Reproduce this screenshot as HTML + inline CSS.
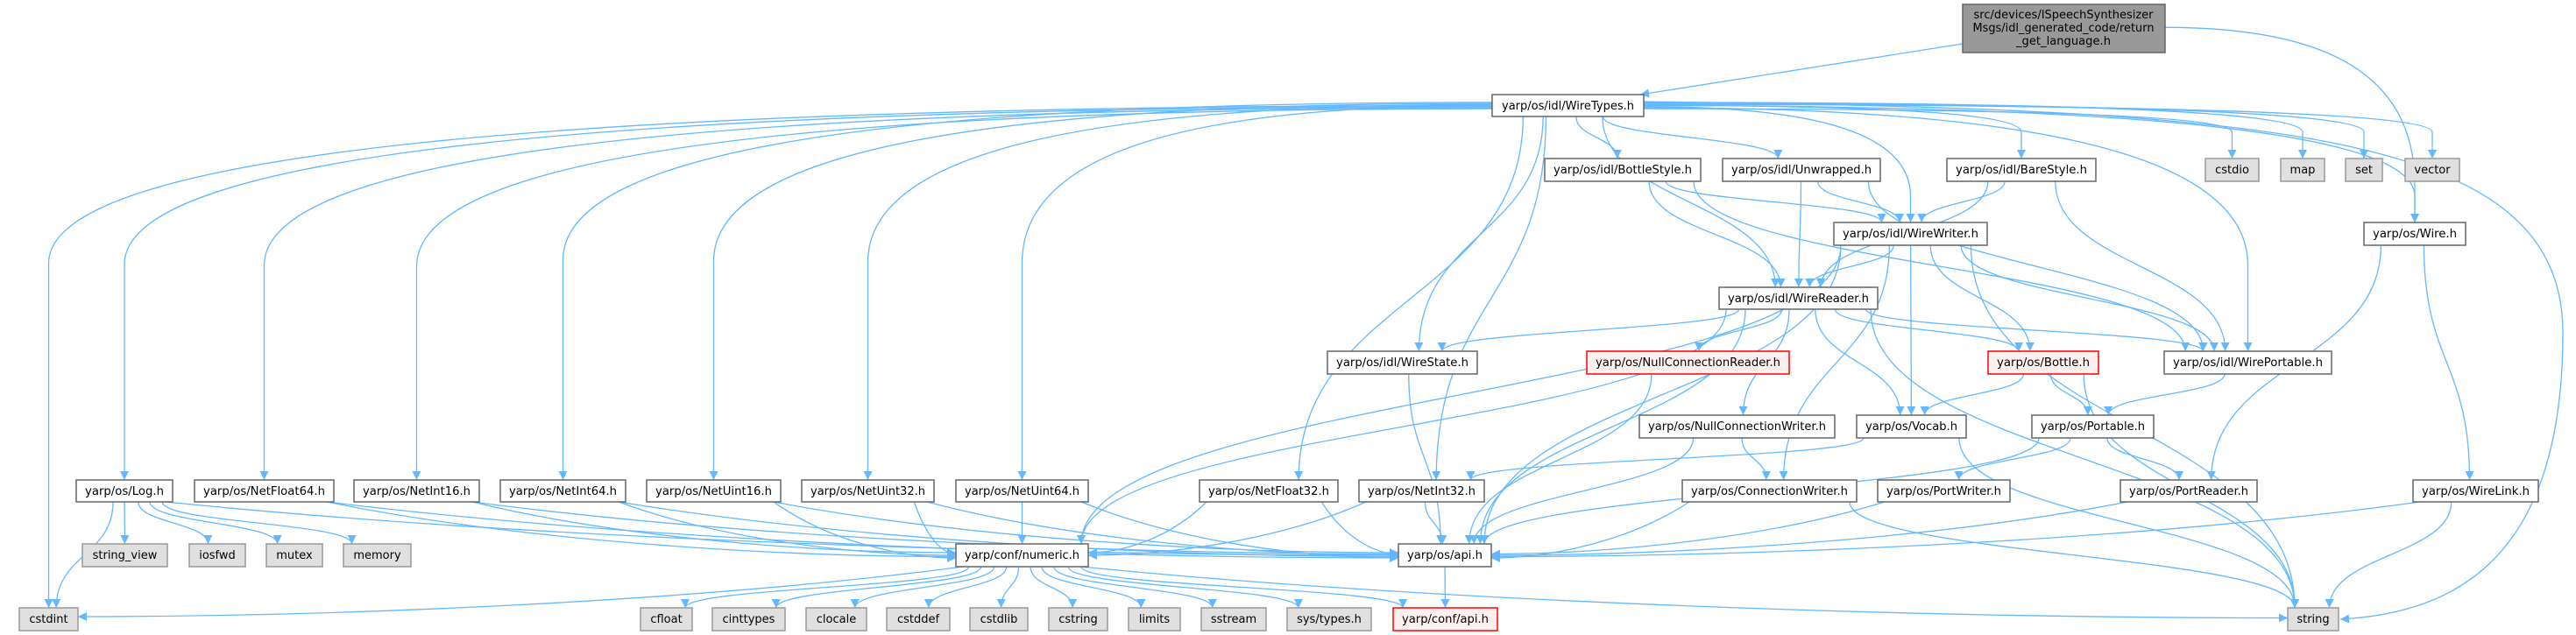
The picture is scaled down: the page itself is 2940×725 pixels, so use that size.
<!DOCTYPE html>
<html><head><meta charset="utf-8"><style>
html,body{margin:0;padding:0;background:#fff;}
svg{display:block;}
text{font-family:"DejaVu Sans","Liberation Sans",sans-serif;font-size:13px;fill:#000;}
.n rect{fill:#fff;stroke:#666;stroke-width:1.5;}
.g rect{fill:#e0e0e0;stroke:#999;stroke-width:1.5;}
.r rect{fill:#fff0f0;stroke:#f00;stroke-width:1.5;}
.root rect{fill:#999;stroke:#666;stroke-width:1.5;}
.e{fill:none;stroke:#63b8ff;stroke-width:1.3;}
</style></head><body>
<svg id="s" width="2940" height="725" viewBox="0 0 2940 725" xmlns="http://www.w3.org/2000/svg">
<defs><marker id="a" viewBox="0 0 10 10" refX="10" refY="5" markerWidth="11" markerHeight="10" markerUnits="userSpaceOnUse" orient="auto"><path d="M0,0 L10,5 L0,10 z" fill="#63b8ff"/></marker></defs>
<g id="edges"></g>
<g class="root"><rect id="root" x="2240" y="5" width="231" height="55"/>
<text x="2355" y="21" text-anchor="middle" textLength="205" lengthAdjust="spacingAndGlyphs">src/devices/ISpeechSynthesizer</text>
<text x="2355" y="36" text-anchor="middle" textLength="207" lengthAdjust="spacingAndGlyphs">Msgs/idl_generated_code/return</text>
<text x="2355" y="51" text-anchor="middle" textLength="108" lengthAdjust="spacingAndGlyphs">_get_language.h</text></g>
<g class="n"><rect id="WireTypes" x="1703" y="108" width="173" height="25"/><text x="1789.5" y="125" text-anchor="middle" textLength="151" lengthAdjust="spacingAndGlyphs">yarp/os/idl/WireTypes.h</text></g>
<g class="n"><rect id="BottleStyle" x="1763" y="181" width="178" height="26"/><text x="1852" y="198" text-anchor="middle" textLength="158" lengthAdjust="spacingAndGlyphs">yarp/os/idl/BottleStyle.h</text></g>
<g class="n"><rect id="Unwrapped" x="1966" y="181" width="180" height="26"/><text x="2056" y="198" text-anchor="middle" textLength="160" lengthAdjust="spacingAndGlyphs">yarp/os/idl/Unwrapped.h</text></g>
<g class="n"><rect id="BareStyle" x="2222" y="181" width="170" height="26"/><text x="2307" y="198" text-anchor="middle" textLength="150" lengthAdjust="spacingAndGlyphs">yarp/os/idl/BareStyle.h</text></g>
<g class="g"><rect id="cstdio" x="2517" y="181" width="61" height="26"/><text x="2547.5" y="198" text-anchor="middle">cstdio</text></g>
<g class="g"><rect id="map" x="2603" y="181" width="50" height="26"/><text x="2628" y="198" text-anchor="middle">map</text></g>
<g class="g"><rect id="set" x="2677" y="181" width="42" height="26"/><text x="2698" y="198" text-anchor="middle">set</text></g>
<g class="g"><rect id="vector" x="2745" y="181" width="62" height="26"/><text x="2776" y="198" text-anchor="middle">vector</text></g>
<g class="n"><rect id="WireWriter" x="2093" y="254" width="175" height="26"/><text x="2180.5" y="271" text-anchor="middle" textLength="155" lengthAdjust="spacingAndGlyphs">yarp/os/idl/WireWriter.h</text></g>
<g class="n"><rect id="Wire" x="2698" y="254" width="116" height="26"/><text x="2756" y="271" text-anchor="middle" textLength="96" lengthAdjust="spacingAndGlyphs">yarp/os/Wire.h</text></g>
<g class="n"><rect id="WireReader" x="1962" y="328" width="181" height="25"/><text x="2052.5" y="345" text-anchor="middle" textLength="161" lengthAdjust="spacingAndGlyphs">yarp/os/idl/WireReader.h</text></g>
<g class="n"><rect id="WireState" x="1515" y="401" width="171" height="26"/><text x="1600.5" y="418" text-anchor="middle" textLength="151" lengthAdjust="spacingAndGlyphs">yarp/os/idl/WireState.h</text></g>
<g class="r"><rect id="NCR" x="1811" y="401" width="231" height="26"/><text x="1926.5" y="418" text-anchor="middle" textLength="211" lengthAdjust="spacingAndGlyphs">yarp/os/NullConnectionReader.h</text></g>
<g class="r"><rect id="Bottle" x="2269" y="401" width="126" height="26"/><text x="2332" y="418" text-anchor="middle" textLength="106" lengthAdjust="spacingAndGlyphs">yarp/os/Bottle.h</text></g>
<g class="n"><rect id="WirePortable" x="2470" y="401" width="191" height="26"/><text x="2565.5" y="418" text-anchor="middle" textLength="171" lengthAdjust="spacingAndGlyphs">yarp/os/idl/WirePortable.h</text></g>
<g class="n"><rect id="NCW" x="1871" y="474" width="223" height="26"/><text x="1982.5" y="491" text-anchor="middle" textLength="203" lengthAdjust="spacingAndGlyphs">yarp/os/NullConnectionWriter.h</text></g>
<g class="n"><rect id="Vocab" x="2119" y="474" width="125" height="26"/><text x="2181.5" y="491" text-anchor="middle" textLength="105" lengthAdjust="spacingAndGlyphs">yarp/os/Vocab.h</text></g>
<g class="n"><rect id="Portable" x="2319" y="474" width="139" height="26"/><text x="2388.5" y="491" text-anchor="middle" textLength="119" lengthAdjust="spacingAndGlyphs">yarp/os/Portable.h</text></g>
<g class="n"><rect id="Log" x="87" y="548" width="110" height="25"/><text x="142" y="565" text-anchor="middle" textLength="90" lengthAdjust="spacingAndGlyphs">yarp/os/Log.h</text></g>
<g class="n"><rect id="NetFloat64" x="222" y="548" width="159" height="25"/><text x="301.5" y="565" text-anchor="middle" textLength="139" lengthAdjust="spacingAndGlyphs">yarp/os/NetFloat64.h</text></g>
<g class="n"><rect id="NetInt16" x="404" y="548" width="143" height="25"/><text x="475.5" y="565" text-anchor="middle" textLength="123" lengthAdjust="spacingAndGlyphs">yarp/os/NetInt16.h</text></g>
<g class="n"><rect id="NetInt64" x="571" y="548" width="143" height="25"/><text x="642.5" y="565" text-anchor="middle" textLength="123" lengthAdjust="spacingAndGlyphs">yarp/os/NetInt64.h</text></g>
<g class="n"><rect id="NetUint16" x="738" y="548" width="153" height="25"/><text x="814.5" y="565" text-anchor="middle" textLength="133" lengthAdjust="spacingAndGlyphs">yarp/os/NetUint16.h</text></g>
<g class="n"><rect id="NetUint32" x="915" y="548" width="151" height="25"/><text x="990.5" y="565" text-anchor="middle" textLength="131" lengthAdjust="spacingAndGlyphs">yarp/os/NetUint32.h</text></g>
<g class="n"><rect id="NetUint64" x="1091" y="548" width="151" height="25"/><text x="1166.5" y="565" text-anchor="middle" textLength="131" lengthAdjust="spacingAndGlyphs">yarp/os/NetUint64.h</text></g>
<g class="n"><rect id="NetFloat32" x="1369" y="548" width="158" height="25"/><text x="1448" y="565" text-anchor="middle" textLength="138" lengthAdjust="spacingAndGlyphs">yarp/os/NetFloat32.h</text></g>
<g class="n"><rect id="NetInt32" x="1551" y="548" width="143" height="25"/><text x="1622.5" y="565" text-anchor="middle" textLength="123" lengthAdjust="spacingAndGlyphs">yarp/os/NetInt32.h</text></g>
<g class="n"><rect id="ConnW" x="1920" y="548" width="199" height="25"/><text x="2019.5" y="565" text-anchor="middle" textLength="179" lengthAdjust="spacingAndGlyphs">yarp/os/ConnectionWriter.h</text></g>
<g class="n"><rect id="PortWriter" x="2143" y="548" width="151" height="25"/><text x="2218.5" y="565" text-anchor="middle" textLength="131" lengthAdjust="spacingAndGlyphs">yarp/os/PortWriter.h</text></g>
<g class="n"><rect id="PortReader" x="2420" y="548" width="156" height="25"/><text x="2498" y="565" text-anchor="middle" textLength="136" lengthAdjust="spacingAndGlyphs">yarp/os/PortReader.h</text></g>
<g class="n"><rect id="WireLink" x="2754" y="548" width="143" height="25"/><text x="2825.5" y="565" text-anchor="middle" textLength="123" lengthAdjust="spacingAndGlyphs">yarp/os/WireLink.h</text></g>
<g class="g"><rect id="string_view" x="94" y="621" width="97" height="26"/><text x="142.5" y="638" text-anchor="middle">string_view</text></g>
<g class="g"><rect id="iosfwd" x="216" y="621" width="64" height="26"/><text x="248" y="638" text-anchor="middle">iosfwd</text></g>
<g class="g"><rect id="mutex" x="304" y="621" width="64" height="26"/><text x="336" y="638" text-anchor="middle">mutex</text></g>
<g class="g"><rect id="memory" x="392" y="621" width="77" height="26"/><text x="430.5" y="638" text-anchor="middle">memory</text></g>
<g class="n"><rect id="numeric" x="1091" y="621" width="151" height="26"/><text x="1166.5" y="638" text-anchor="middle" textLength="131" lengthAdjust="spacingAndGlyphs">yarp/conf/numeric.h</text></g>
<g class="n"><rect id="api" x="1596" y="621" width="106" height="26"/><text x="1649" y="638" text-anchor="middle" textLength="86" lengthAdjust="spacingAndGlyphs">yarp/os/api.h</text></g>
<g class="g"><rect id="cstdint" x="22" y="694" width="67" height="26"/><text x="55.5" y="711" text-anchor="middle">cstdint</text></g>
<g class="g"><rect id="cfloat" x="731" y="694" width="59" height="26"/><text x="760.5" y="711" text-anchor="middle">cfloat</text></g>
<g class="g"><rect id="cinttypes" x="813" y="694" width="83" height="26"/><text x="854.5" y="711" text-anchor="middle">cinttypes</text></g>
<g class="g"><rect id="clocale" x="920" y="694" width="69" height="26"/><text x="954.5" y="711" text-anchor="middle">clocale</text></g>
<g class="g"><rect id="cstddef" x="1012" y="694" width="72" height="26"/><text x="1048" y="711" text-anchor="middle">cstddef</text></g>
<g class="g"><rect id="cstdlib" x="1107" y="694" width="66" height="26"/><text x="1140" y="711" text-anchor="middle">cstdlib</text></g>
<g class="g"><rect id="cstring" x="1197" y="694" width="67" height="26"/><text x="1230.5" y="711" text-anchor="middle">cstring</text></g>
<g class="g"><rect id="limits" x="1288" y="694" width="59" height="26"/><text x="1317.5" y="711" text-anchor="middle">limits</text></g>
<g class="g"><rect id="sstream" x="1371" y="694" width="74" height="26"/><text x="1408" y="711" text-anchor="middle">sstream</text></g>
<g class="g"><rect id="systypes" x="1469" y="694" width="96" height="26"/><text x="1517" y="711" text-anchor="middle">sys/types.h</text></g>
<g class="r"><rect id="confapi" x="1590" y="694" width="119" height="26"/><text x="1649.5" y="711" text-anchor="middle" textLength="99" lengthAdjust="spacingAndGlyphs">yarp/conf/api.h</text></g>
<g class="g"><rect id="string" x="2611" y="694" width="58" height="26"/><text x="2640" y="711" text-anchor="middle">string</text></g>
</svg>
<script>
var E=[["root","WireTypes"],["root","Wire"],
["WireTypes","cstdint"],["WireTypes","Log"],["WireTypes","NetFloat64"],["WireTypes","NetInt16"],["WireTypes","NetInt64"],["WireTypes","NetUint16"],["WireTypes","NetUint32"],["WireTypes","NetUint64"],["WireTypes","NetFloat32"],["WireTypes","NetInt32"],["WireTypes","WireState"],["WireTypes","WireReader"],["WireTypes","BottleStyle"],["WireTypes","Unwrapped"],["WireTypes","BareStyle"],["WireTypes","WireWriter"],["WireTypes","WirePortable"],["WireTypes","cstdio"],["WireTypes","map"],["WireTypes","set"],["WireTypes","vector"],["WireTypes","Wire"],["WireTypes","string"],
["BottleStyle","WireReader"],["BottleStyle","WireWriter"],["BottleStyle","WirePortable"],
["Unwrapped","WireReader"],["Unwrapped","WireWriter"],["Unwrapped","WirePortable"],
["BareStyle","WireReader"],["BareStyle","WireWriter"],["BareStyle","WirePortable"],
["WireWriter","WireReader"],["WireWriter","WirePortable"],["WireWriter","Bottle"],["WireWriter","Vocab"],["WireWriter","ConnW"],["WireWriter","api"],["WireWriter","numeric"],["WireWriter","string"],
["WireReader","WireState"],["WireReader","NCR"],["WireReader","NCW"],["WireReader","Vocab"],["WireReader","Bottle"],["WireReader","WirePortable"],["WireReader","numeric"],["WireReader","api"],["WireReader","string"],
["WireState","api"],["NCR","api"],["NCW","ConnW"],["NCW","api"],
["Bottle","Vocab"],["Bottle","Portable"],["Bottle","string"],["WirePortable","Portable"],
["Vocab","NetInt32"],["Vocab","string"],["Portable","PortWriter"],["Portable","PortReader"],["Portable","api"],
["Wire","PortReader"],["Wire","WireLink"],
["Log","string_view"],["Log","iosfwd"],["Log","mutex"],["Log","memory"],["Log","cstdint"],["Log","api"],
["NetFloat64","numeric"],["NetFloat64","api"],["NetInt16","numeric"],["NetInt16","api"],["NetInt64","numeric"],["NetInt64","api"],["NetUint16","numeric"],["NetUint16","api"],["NetUint32","numeric"],["NetUint32","api"],["NetUint64","numeric"],["NetUint64","api"],["NetFloat32","numeric"],["NetFloat32","api"],["NetInt32","numeric"],["NetInt32","api"],
["ConnW","api"],["ConnW","string"],["PortWriter","api"],["PortReader","api"],["WireLink","api"],["WireLink","string"],
["numeric","cstdint"],["numeric","cfloat"],["numeric","cinttypes"],["numeric","clocale"],["numeric","cstddef"],["numeric","cstdlib"],["numeric","cstring"],["numeric","limits"],["numeric","sstream"],["numeric","systypes"],["numeric","confapi"],["numeric","string"],
["api","confapi"]];
function b(id){var r=document.getElementById(id);var x=+r.getAttribute("x"),y=+r.getAttribute("y"),w=+r.getAttribute("width"),h=+r.getAttribute("height");return {x:x,y:y,w:w,h:h,cx:x+w/2,cy:y+h/2};}
var out="",k=0;
E.forEach(function(e){var s=b(e[0]),t=b(e[1]),d;k++;
var dx=t.cx-s.cx,dy=t.y-(s.y+s.h);
var sideT=(e[1]=="api"||e[1]=="numeric"||(e[0]=="numeric"&&(e[1]=="cstdint"||e[1]=="string")));
if(e[0]=="root"&&e[1]=="WireTypes"){
 d="M2240,50 L1872,108";
}else if(e[0]=="WireTypes"&&e[1]=="string"){
 d="M1876,116 C2600,125 2925,150 2925,380 C2925,640 2800,700 2671,707";
}else if((e[0]=="WireTypes"||e[0]=="root")&&dy>40&&Math.abs(dx)>350){
 var sx=dx<0?s.x:s.x+s.w,sy=s.cy+((k%7)-3)*1.2;
 var tx=t.cx,ty=t.y;var c=Math.min(sy+180,ty-30);
 d="M"+sx+","+sy+" C"+(tx+(sx-tx)*0.35)+","+sy+" "+tx+","+(sy+(c-sy)*0.3)+" "+tx+","+c+" L"+tx+","+ty;
}else if(sideT&&dy>=0&&dy<80&&Math.abs(dx)>150){
 var sx=s.cx+Math.max(-s.w/2+8,Math.min(s.w/2-8,dx*0.3)),sy=s.y+s.h;
 var tx=dx>0?t.x:t.x+t.w,ty=t.cy+((k%5)-2)*1.5;
 d="M"+sx+","+sy+" C"+(sx+(tx-sx)*0.3)+","+(sy+(ty-sy)*0.7)+" "+(tx-(tx-sx)*0.3)+","+ty+" "+tx+","+ty;
}else{
 var sx=s.cx+Math.max(-s.w/2+8,Math.min(s.w/2-8,dx*0.15)),sy=s.y+s.h;
 var tx=t.cx+Math.max(-t.w/2+8,Math.min(t.w/2-8,-dx*0.1)),ty=t.y;
 if(t.y<=s.y+s.h){sy=s.cy;sx=(t.cx<s.cx)?s.x:s.x+s.w;}
 var h=ty-sy;
 d="M"+sx+","+sy+" C"+sx+","+(sy+h*0.5)+" "+tx+","+(ty-h*0.5)+" "+tx+","+ty;
}
out+='<path class="e" marker-end="url(#a)" d="'+d+'"/>';});
document.getElementById("edges").innerHTML=out;
</script>
</body></html>
